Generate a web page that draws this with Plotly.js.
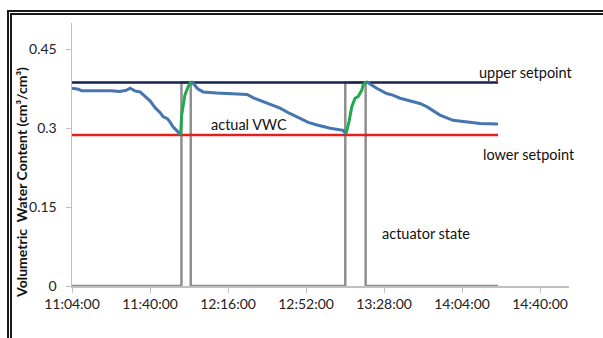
<!DOCTYPE html>
<html>
<head>
<meta charset="utf-8">
<script src="https://cdn.plot.ly/plotly-3.0.1.min.js"></script>
<style>
  html, body { margin: 0; padding: 0; width: 603px; height: 338px; overflow: hidden; background: #fff; }
  #chart { width: 603px; height: 338px; }
  #frame { position: absolute; left: 7px; top: 10px; width: 700px; height: 400px;
           border: 5px double #1a1a1a; box-sizing: border-box; pointer-events: none; }
</style>
</head>
<body>
<div id="chart"></div>
<div id="frame"></div>
<script>
const D = '2000-01-01 ';

// actual VWC (blue), three segments
const vwc1Time = ['11:04:00','11:07:00','11:08:30','11:13:42','11:18:18','11:22:00','11:26:00','11:29:00','11:30:48','11:33:00','11:35:24','11:37:40','11:40:00','11:42:20','11:44:36','11:46:00','11:48:00','11:49:12','11:50:30','11:52:54','11:54:06'];
const vwc1Val  = [0.376, 0.374, 0.371, 0.371, 0.372, 0.371, 0.370, 0.372, 0.376, 0.371, 0.369, 0.361, 0.352, 0.339, 0.330, 0.322, 0.318, 0.312, 0.303, 0.293, 0.287];

const vwc2Time = ['11:58:54','11:59:48','12:02:00','12:04:30','12:10:54','12:18:18','12:24:48','12:27:30','12:30:48','12:35:00','12:40:00','12:44:30','12:49:12','12:53:00','12:57:06','13:03:06','13:09:06','13:10:24'];
const vwc2Val  = [0.389, 0.386, 0.375, 0.369, 0.367, 0.365, 0.364, 0.358, 0.353, 0.346, 0.338, 0.328, 0.319, 0.311, 0.306, 0.300, 0.296, 0.289];

const vwc3Time = ['13:19:42','13:22:00','13:24:36','13:29:12','13:32:00','13:35:24','13:41:24','13:44:30','13:47:42','13:51:00','13:53:48','13:59:48','14:06:06','14:12:18','14:20:36'];
const vwc3Val  = [0.389, 0.383, 0.376, 0.366, 0.363, 0.357, 0.350, 0.347, 0.341, 0.332, 0.325, 0.315, 0.312, 0.309, 0.308];

// irrigation segments (green)
const irr1Time = ['11:54:06','11:54:36','11:56:06','11:57:30','11:58:54'];
const irr1Val  = [0.287, 0.325, 0.363, 0.378, 0.389];
const irr2Time = ['13:10:24','13:11:48','13:13:06','13:14:36','13:16:00','13:17:42','13:18:18','13:19:42'];
const irr2Val  = [0.289, 0.312, 0.341, 0.357, 0.360, 0.372, 0.382, 0.389];

// actuator state (step)
const actTime = ['11:04:00','11:54:30','11:58:48','13:10:06','13:19:30','14:20:36'];
const actVal  = [0, 0.387, 0, 0.387, 0, 0];

// setpoints
const setTime = ['11:04:00','14:20:36'];
const upperVal = [0.387, 0.387];
const lowerVal = [0.287, 0.287];

// axes
const xTickTimes = ['11:04:00','11:40:00','12:16:00','12:52:00','13:28:00','14:04:00','14:40:00'];
const xTickText  = ['11:04:00','11:40:00','12:16:00','12:52:00','13:28:00','14:04:00','14:40:00'];
const yTickVals  = [0, 0.15, 0.3, 0.45];
const yTickText  = ['0', '0.15', '0.3', '0.45'];

const t = a => a.map(s => D + s);
const FONT = 'Lato, "Open Sans", sans-serif';

const traces = [
  {x: t(actTime), y: actVal, mode: 'lines', line: {color: '#8f8f8f', width: 2.5, shape: 'hv'}},
  {x: t(setTime), y: lowerVal, mode: 'lines', line: {color: '#e3201c', width: 2.5}},
  {x: t(setTime), y: upperVal, mode: 'lines', line: {color: '#14244f', width: 2.5}},
  {x: t(vwc1Time), y: vwc1Val, mode: 'lines', line: {color: '#4675b0', width: 3}},
  {x: t(vwc2Time), y: vwc2Val, mode: 'lines', line: {color: '#4675b0', width: 3}},
  {x: t(vwc3Time), y: vwc3Val, mode: 'lines', line: {color: '#4675b0', width: 3}},
  {x: t(irr1Time), y: irr1Val, mode: 'lines', line: {color: '#1faa4b', width: 3}},
  {x: t(irr2Time), y: irr2Val, mode: 'lines', line: {color: '#1faa4b', width: 3}}
];

const ann = (text, xs, y, anchor) => ({
  text: text, x: D + xs, y: y, xref: 'x', yref: 'y', showarrow: false,
  xanchor: anchor, yanchor: 'middle', font: {family: FONT, size: 14.5, color: '#111'}
});

const layout = {
  width: 603, height: 338,
  margin: {l: 72, r: 34, t: 23, b: 52},
  paper_bgcolor: '#fff', plot_bgcolor: '#fff',
  showlegend: false,
  font: {family: FONT, size: 14, color: '#222'},
  xaxis: {
    type: 'date',
    range: [D + '11:04:00', D + '14:53:20'],
    tickvals: t(xTickTimes), ticktext: xTickText,
    showgrid: false, zeroline: false,
    showline: true, linecolor: '#c0c0c0', linewidth: 1.5,
    ticks: 'outside', ticklen: 5, tickcolor: '#c0c0c0',
    tickfont: {family: FONT, size: 14, color: '#222'}
  },
  yaxis: {
    range: [0, 0.5],
    tickvals: yTickVals, ticktext: yTickText,
    showgrid: false, zeroline: false,
    showline: true, linecolor: '#c0c0c0', linewidth: 1.5,
    ticks: 'outside', ticklen: 5, tickcolor: '#c0c0c0',
    ticklabelstandoff: 6,
    tickfont: {family: FONT, size: 14, color: '#222'}
  },
  annotations: [
    ann('upper setpoint', '14:33:30', 0.405, 'center'),
    ann('lower setpoint', '14:34:40', 0.250, 'center'),
    ann('actual VWC', '12:25:54', 0.307, 'center'),
    ann('actuator state', '13:47:24', 0.100, 'center'),
    {text: '<b>Volumetric  Water Content (cm³/cm³)</b>', xref: 'paper', yref: 'paper',
     x: -0.1006, y: 0.392, textangle: -90, showarrow: false, xanchor: 'center', yanchor: 'middle',
     font: {family: FONT, size: 14, color: '#111'}}
  ]
};

Plotly.newPlot('chart', traces, layout, {displayModeBar: false, staticPlot: true});
</script>
</body>
</html>
